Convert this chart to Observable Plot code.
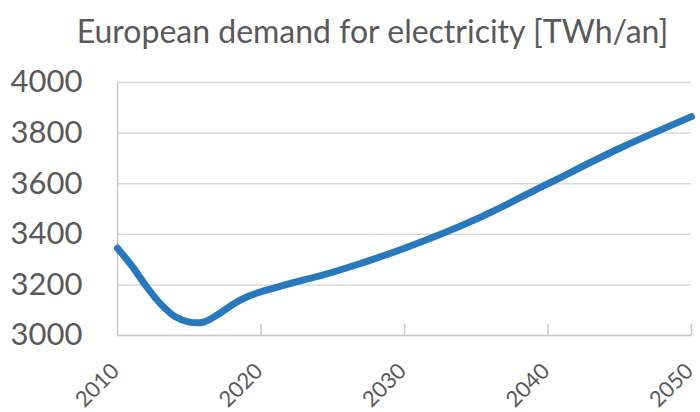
<!DOCTYPE html>
<html>
<head>
<meta charset="utf-8">
<script src="https://cdn.jsdelivr.net/npm/d3@7"></script>
<script src="https://cdn.jsdelivr.net/npm/@observablehq/plot@0.6"></script>
<style>
  body { margin: 0; background: #fff; font-family: Lato, "Open Sans", sans-serif; }
  #title {
    height: 60px; box-sizing: border-box; padding: 13px 0 0 45px;
    text-align: center; font-size: 32px; line-height: 36px; color: #595959;
  }
  #chart svg { display: block; }
</style>
</head>
<body>
<div id="title">European demand for electricity [TWh/an]</div>
<div id="chart"></div>
<script>
// Electricity demand in Europe, TWh per year
const years  = [2010, 2011, 2012, 2013, 2014, 2015, 2016, 2017, 2018, 2019, 2020, 2022, 2025, 2030, 2035, 2040, 2045, 2050];
const demand = [3345, 3275, 3195, 3125, 3075, 3053, 3053, 3083, 3122, 3152, 3173, 3205, 3250, 3345, 3460, 3600, 3740, 3865];

const yTicks = [3000, 3200, 3400, 3600, 3800, 4000];
const xTicks = [2010, 2020, 2030, 2040, 2050];
const innerTicks = [2020, 2030, 2040, 2050];

const data = years.map((year, i) => ({year, value: demand[i]}));

const H = 352, mTop = 22, mBottom = 77;
const axisGray = "#c8c8c8";
const labelGray = "#595959";

const chart = Plot.plot({
  width: 700,
  height: H,
  marginTop: mTop,
  marginBottom: mBottom,
  marginLeft: 117,
  marginRight: 9,
  style: {fontFamily: "Lato, 'Open Sans', sans-serif", background: "#fff"},
  x: {domain: [2010, 2050]},
  y: {domain: [3000, 4000]},
  marks: [
    Plot.gridY(yTicks, {stroke: "#d9d9d9", strokeOpacity: 1, strokeWidth: 1.5}),
    Plot.ruleX([2010], {stroke: axisGray, strokeWidth: 1.5}),
    Plot.ruleY([3000], {stroke: axisGray, strokeWidth: 1.5}),
    // short inward tick marks along the bottom axis
    Plot.tickX(innerTicks, {x: d => d, stroke: axisGray, strokeWidth: 1.5, insetTop: H - mTop - mBottom - 11}),
    Plot.axisY(yTicks, {tickSize: 0, tickPadding: 35, fontSize: 31, fill: labelGray, label: null,
      tickFormat: d => `${d}`}),
    Plot.axisX(xTicks, {tickSize: 0, tickPadding: 32, tickRotate: -45, fontSize: 22, fill: labelGray,
      dx: -2, tickFormat: d => `${d}`, label: null}),
    Plot.line(data, {x: "year", y: "value", curve: "catmull-rom", stroke: "#2878be",
      strokeWidth: 7, strokeLinecap: "round", strokeLinejoin: "round"})
  ]
});
document.getElementById("chart").append(chart);
</script>
</body>
</html>
